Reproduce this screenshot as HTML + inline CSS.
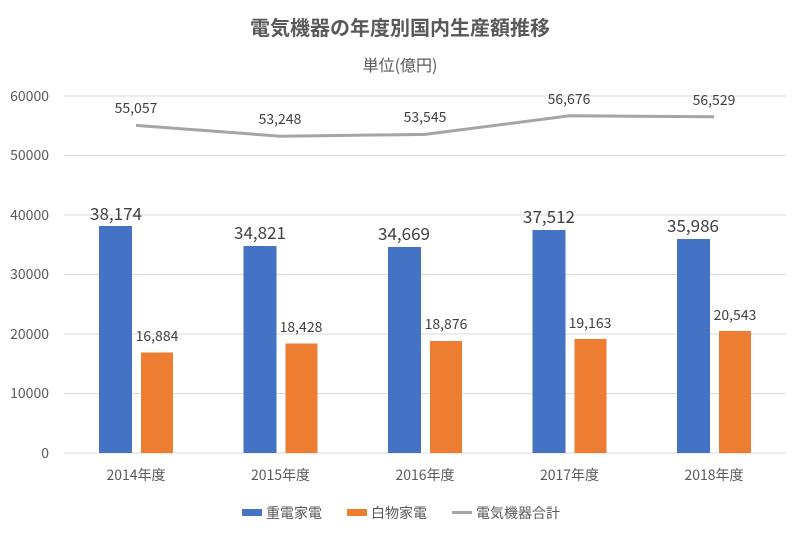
<!DOCTYPE html>
<html><head><meta charset="utf-8"><style>body{margin:0;background:#fff}svg{display:block}text{font-family:"Noto Sans CJK JP","Liberation Sans",sans-serif}</style></head>
<body>
<svg width="800" height="534" xmlns="http://www.w3.org/2000/svg">
<rect width="800" height="534" fill="#fff"/>
<text x="400" y="35" text-anchor="middle" font-size="20" font-weight="bold" fill="#595959">電気機器の年度別国内生産額推移</text>
<text x="400" y="71" text-anchor="middle" font-size="16" fill="#595959">単位(億円)</text>
<g stroke="#d9d9d9" stroke-width="1">
<line x1="64" x2="786" y1="96" y2="96"/><line x1="64" x2="786" y1="155.5" y2="155.5"/><line x1="64" x2="786" y1="215" y2="215"/><line x1="64" x2="786" y1="274.5" y2="274.5"/><line x1="64" x2="786" y1="334" y2="334"/><line x1="64" x2="786" y1="393.5" y2="393.5"/><line x1="64" x2="786" y1="453" y2="453"/>
</g>
<g font-size="14" fill="#595959" text-anchor="end">
<text x="49" y="101">60000</text><text x="49" y="160">50000</text><text x="49" y="220">40000</text><text x="49" y="279">30000</text><text x="49" y="339">20000</text><text x="49" y="398">10000</text><text x="49" y="458">0</text>
</g>
<g fill="#4472c4">
<rect x="99" y="226" width="33" height="227"/><rect x="243.5" y="246" width="33" height="207"/><rect x="388" y="247" width="33" height="206"/><rect x="532.5" y="230" width="33" height="223"/><rect x="677" y="239" width="33" height="214"/>
</g>
<g fill="#ed7d31">
<rect x="141" y="352.5" width="32" height="100.5"/><rect x="285.5" y="343.5" width="32" height="109.5"/><rect x="430" y="341" width="32" height="112"/><rect x="574.5" y="339" width="32" height="114"/><rect x="719" y="331" width="32" height="122"/>
</g>
<polyline points="136,125.4 280.5,136.2 425,134.4 569.5,115.8 714,116.7" fill="none" stroke="#a5a5a5" stroke-width="3"/>
<g font-size="17" fill="#404040" text-anchor="middle">
<text x="116" y="220">38,174</text><text x="260" y="239">34,821</text><text x="404" y="240">34,669</text><text x="549" y="223">37,512</text><text x="693" y="232">35,986</text>
</g>
<g font-size="14" fill="#404040" text-anchor="middle">
<text x="157" y="341">16,884</text><text x="301" y="332">18,428</text><text x="446" y="329">18,876</text><text x="590" y="328">19,163</text><text x="735" y="320">20,543</text>
<text x="136" y="113">55,057</text><text x="280" y="124">53,248</text><text x="425" y="122">53,545</text><text x="569" y="104">56,676</text><text x="714" y="105">56,529</text>
</g>
<g font-size="14" fill="#595959" text-anchor="middle">
<text x="136" y="480">2014年度</text><text x="280.5" y="480">2015年度</text><text x="425" y="480">2016年度</text><text x="569.5" y="480">2017年度</text><text x="714" y="480">2018年度</text>
</g>
<g font-size="14" fill="#595959">
<rect x="242" y="509" width="20" height="7" fill="#4472c4"/><text x="266" y="518">重電家電</text>
<rect x="347" y="509" width="20" height="7" fill="#ed7d31"/><text x="371" y="518">白物家電</text>
<line x1="452" x2="472" y1="512.5" y2="512.5" stroke="#a5a5a5" stroke-width="3"/><text x="476" y="518">電気機器合計</text>
</g>
</svg>
</body></html>
